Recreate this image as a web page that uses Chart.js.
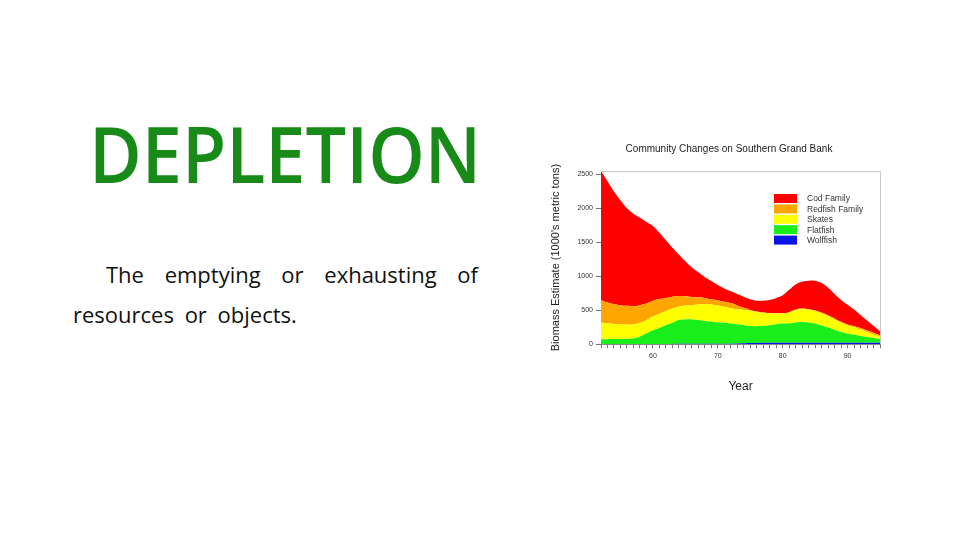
<!DOCTYPE html>
<html lang="en">
<head>
<meta charset="UTF-8">
<title>Depletion</title>
<script src="https://cdn.jsdelivr.net/npm/chart.js"></script>
<style>
  /* Diapositiva 960x540 */
  body {
    margin: 0;
    width: 960px;
    height: 540px;
    background: #ffffff;
    position: relative;
    overflow: hidden;
  }
  .heading {
    position: absolute;
    left: 89px;
    top: 115px;
    font-family: 'Open Sans', sans-serif;
    font-weight: 600;
    font-size: 77px;
    line-height: 1;
    color: #188a18;
    white-space: nowrap;
    transform-origin: left top;
    transform: scaleX(0.935);
  }
  .line1, .line2 {
    position: absolute;
    font-family: 'Open Sans', sans-serif;
    font-size: 22px;
    line-height: 30px;
    color: #111;
    white-space: nowrap;
  }
  .line1 {
    left: 106px;
    top: 259px;
    width: 372px;
    text-align: justify;
    text-align-last: justify;
  }
  .line2 {
    left: 73px;
    top: 299px;
    word-spacing: 5px;
  }
  .chart-box {
    position: absolute;
    left: 545px;
    top: 133px;
    width: 368px;
    height: 265px;
  }
</style>
</head>
<body>
  <div class="heading">DEPLETION</div>
  <div class="line1">The emptying or exhausting of</div>
  <div class="line2">resources or objects.</div>

  <div class="chart-box">
    <canvas id="biomassChart"></canvas>
  </div>

  <script>
    // Datos (1000's metric tons por año)
    const years = [52, 53, 54, 55, 56, 57, 58, 59, 60, 61, 62, 63, 64, 65, 66, 67, 68, 69, 70, 71, 72, 73,
                   74, 75, 76, 77, 78, 79, 80, 81, 82, 83, 84, 85, 86, 87, 88, 89, 90, 91, 92, 93, 94, 95];
    const wolffish = [0, 0, 0, 0, 0, 0, 0, 0, 0, 2, 3, 4, 5, 5, 5, 5, 5, 5, 5, 5, 8, 12,
                      15, 18, 18, 20, 20, 20, 22, 22, 22, 22, 22, 22, 22, 22, 22, 22, 22, 22, 22, 22, 22, 22];
    const flatfish = [74, 74, 75, 77, 80, 85, 115, 157, 205, 238, 277, 311, 350, 358, 360, 350, 337, 325, 317, 310, 297, 280,
                      265, 250, 247, 250, 260, 275, 281, 286, 298, 306, 298, 278, 253, 223, 188, 158, 133, 118, 100, 83, 68, 52];
    const skates = [240, 231, 223, 216, 210, 205, 200, 197, 205, 210, 210, 210, 200, 207, 210, 230, 250, 255, 248, 235, 225, 223,
                    225, 224, 210, 192, 177, 157, 152, 162, 185, 187, 190, 190, 180, 165, 150, 135, 120, 110, 93, 75, 55, 34];
    const redfish = [334, 310, 292, 282, 275, 270, 260, 246, 230, 215, 190, 175, 155, 135, 120, 105, 86, 75, 75, 75, 75, 55,
                     30, 13, 5, 3, 1, 3, 0, 0, 5, 10, 5, 5, 10, 15, 20, 15, 15, 15, 25, 25, 25, 25];
    const cod = [1902, 1785, 1660, 1545, 1435, 1360, 1285, 1200, 1100, 975, 850, 720, 610, 515, 435, 370, 312, 270, 225, 195, 175, 170,
                 165, 155, 160, 175, 192, 225, 265, 330, 370, 395, 420, 440, 435, 405, 360, 320, 290, 245, 190, 145, 100, 57];
    const xTickLabels = [60, 70, 80, 90];
    const yTickValues = [0, 500, 1000, 1500, 2000, 2500];

    // Orden de apilado: de abajo hacia arriba
    const series = [
      { label: 'Wolffish', values: wolffish, color: '#0a14e6' },
      { label: 'Flatfish', values: flatfish, color: '#1aee1a' },
      { label: 'Skates', values: skates, color: '#ffff00' },
      { label: 'Redfish Family', values: redfish, color: '#ffa500' },
      { label: 'Cod Family', values: cod, color: '#ff0000' }
    ];

    // Leyenda dentro del área del gráfico + marco gris
    const insideLegend = {
      id: 'insideLegend',
      afterDatasetsDraw(chart) {
        const { ctx, chartArea } = chart;
        ctx.save();
        ctx.strokeStyle = '#c8c8c8';
        ctx.lineWidth = 1;
        ctx.beginPath();
        ctx.moveTo(chartArea.left, chartArea.top + 0.5);
        ctx.lineTo(chartArea.right + 0.5, chartArea.top + 0.5);
        ctx.lineTo(chartArea.right + 0.5, chartArea.bottom);
        ctx.stroke();

        const x0 = chartArea.left + 173;
        const y0 = chartArea.top + 23;
        const sets = chart.data.datasets.slice().reverse();
        ctx.font = '8.5px "Liberation Sans", Arial, sans-serif';
        ctx.textBaseline = 'middle';
        sets.forEach((ds, i) => {
          const y = y0 + i * 10.4;
          ctx.fillStyle = ds.backgroundColor;
          ctx.fillRect(x0, y, 23, 9);
          ctx.fillStyle = '#333';
          ctx.fillText(ds.label, x0 + 33, y + 5);
        });
        ctx.restore();
      }
    };

    new Chart(document.getElementById('biomassChart'), {
      type: 'line',
      data: {
        datasets: series.map((s, i) => ({
          label: s.label,
          data: years.map((yr, k) => ({ x: yr, y: s.values[k] })),
          backgroundColor: s.color,
          borderColor: s.color,
          borderWidth: 0,
          pointRadius: 0,
          tension: 0.4,
          fill: i === 0 ? 'origin' : '-1'
        }))
      },
      options: {
        responsive: true,
        maintainAspectRatio: false,
        animation: false,
        layout: { padding: 0 },
        plugins: {
          legend: { display: false },
          tooltip: { enabled: false },
          title: {
            display: true,
            text: 'Community Changes on Southern Grand Bank',
            color: '#222',
            font: { family: '"Liberation Sans", Arial, sans-serif', size: 10, weight: 'normal' },
            padding: { top: 10, bottom: 16 }
          }
        },
        scales: {
          x: {
            type: 'linear',
            min: years[0],
            max: years[years.length - 1],
            border: { display: true, color: '#888' },
            grid: { display: true, drawOnChartArea: false, tickLength: 4, color: '#777' },
            afterBuildTicks(scale) {
              scale.ticks = years.map(v => ({ value: v }));
            },
            ticks: {
              autoSkip: false,
              maxRotation: 0,
              padding: 4,
              color: '#333',
              font: { family: '"Liberation Sans", Arial, sans-serif', size: 7 },
              callback: v => (xTickLabels.includes(v) ? String(v) : '')
            },
            title: {
              display: true,
              text: 'Year',
              color: '#222',
              font: { family: '"Liberation Sans", Arial, sans-serif', size: 12 },
              padding: { top: 15, bottom: 4 }
            }
          },
          y: {
            stacked: true,
            min: 0,
            max: 2550,
            border: { display: false },
            grid: { display: true, drawOnChartArea: false, tickLength: 5, color: '#777' },
            afterBuildTicks(scale) {
              scale.ticks = yTickValues.map(v => ({ value: v }));
            },
            afterFit(scale) {
              scale.width = 56;
            },
            ticks: {
              padding: 3,
              color: '#333',
              font: { family: '"Liberation Sans", Arial, sans-serif', size: 7 },
              callback: v => String(v)
            },
            title: {
              display: true,
              text: "Biomass Estimate (1000's metric tons)",
              color: '#222',
              font: { family: '"Liberation Sans", Arial, sans-serif', size: 11 },
              padding: { top: 4, bottom: 8 }
            }
          },
          // eje vacío a la derecha para reservar el margen
          yRight: {
            position: 'right',
            display: true,
            grid: { display: false },
            border: { display: false },
            ticks: { display: false },
            afterFit(scale) {
              scale.width = 33;
            }
          }
        }
      },
      plugins: [insideLegend]
    });
  </script>
</body>
</html>
